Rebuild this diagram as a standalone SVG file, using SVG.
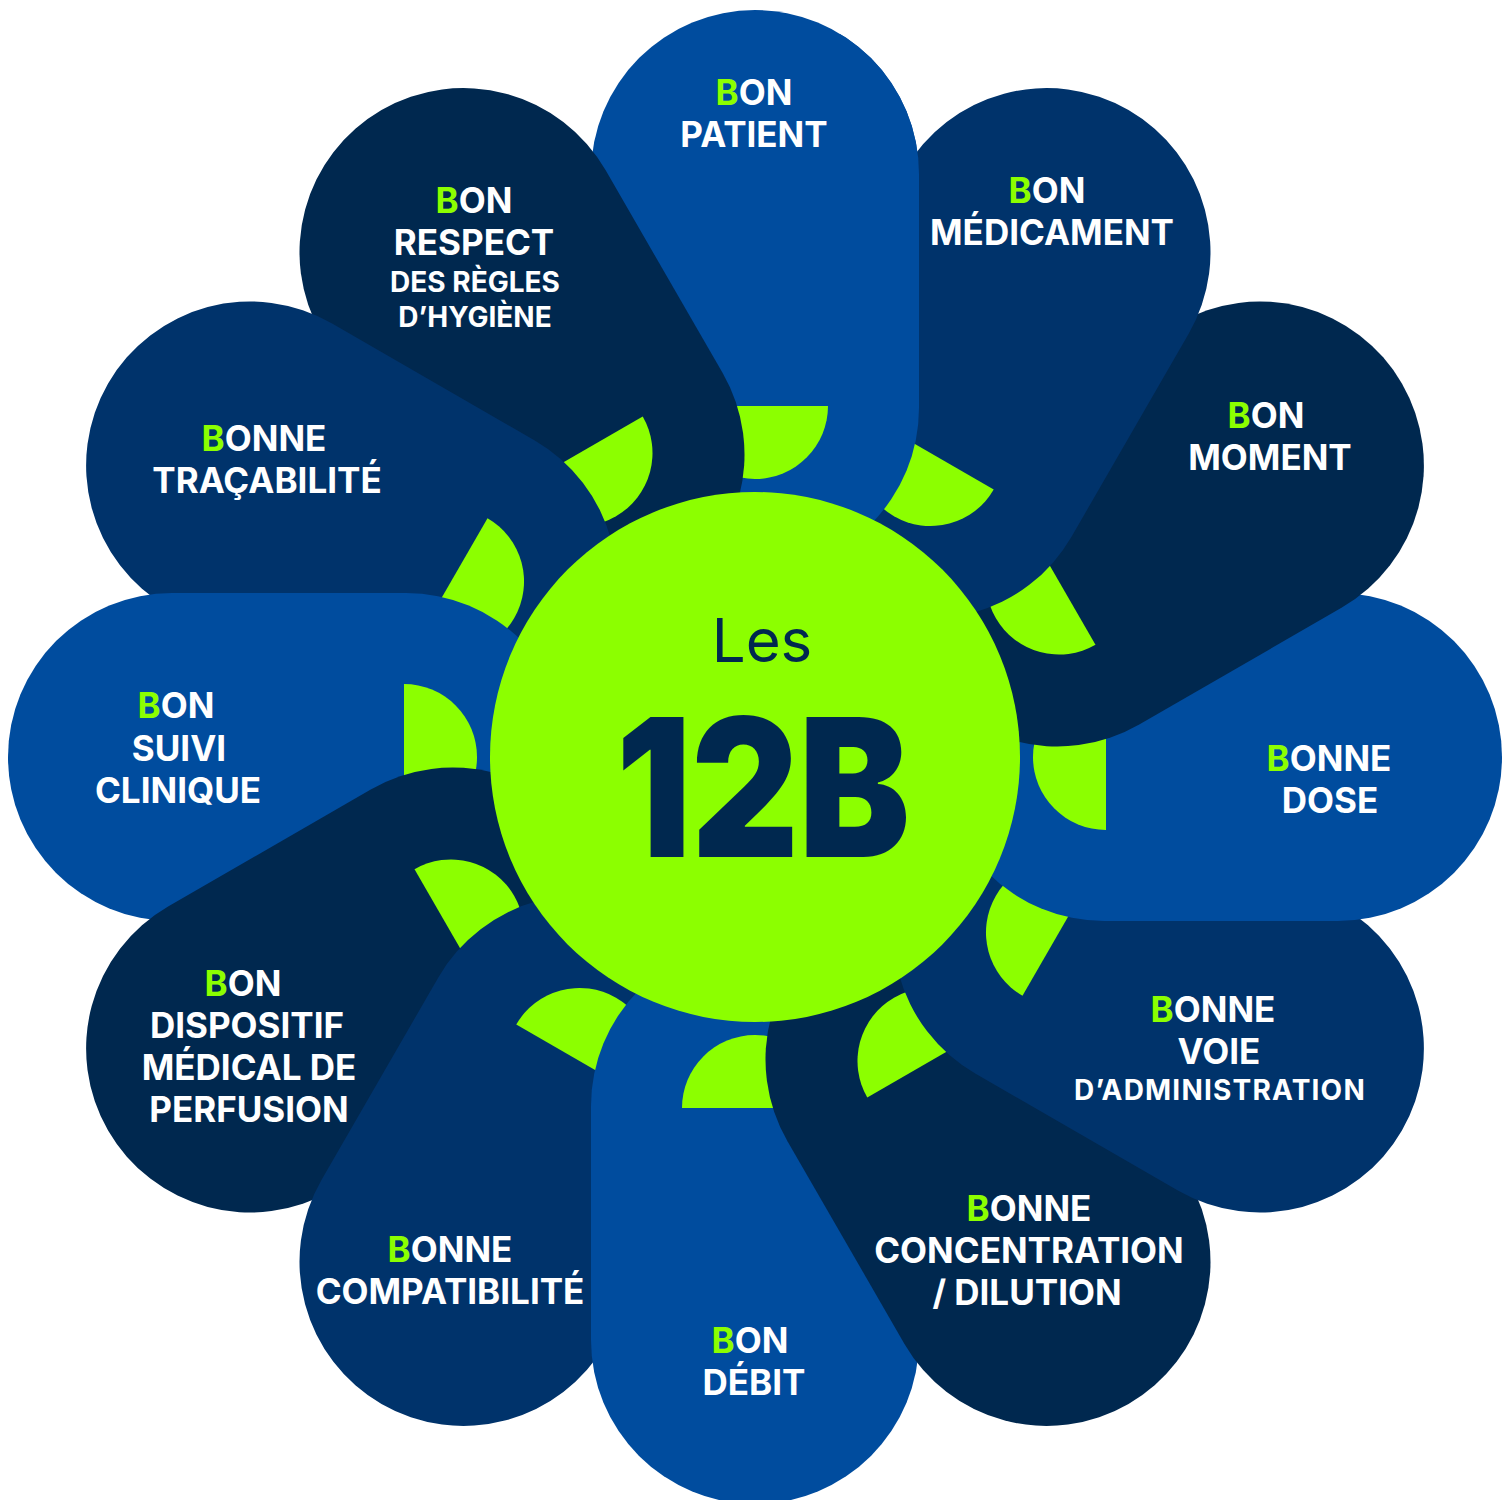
<svg xmlns="http://www.w3.org/2000/svg" xmlns:xlink="http://www.w3.org/1999/xlink" width="1512" height="1500" viewBox="0 0 1512 1500">
<style>
.blue{fill:#004C9E}
.navy{fill:#00336B}
.dark{fill:#00284F}
.leaf{fill:#8CFF00}
.lbl{font-family:Inter,"Liberation Sans",sans-serif;font-weight:700;font-size:35px;fill:#FFFFFF;text-anchor:middle}
.sm{font-size:28px}
.g{fill:#8CFF00}
.ctr{font-family:Inter,"Liberation Sans",sans-serif;fill:#00284F;text-anchor:middle}
</style>
<defs>
<rect id="petal" x="591" y="10" width="328" height="562" rx="164" ry="164"/>
<path id="half" d="M682,406 A73,73 0 0,0 828,406 Z"/>
<clipPath id="cpRight"><polygon points="840,0 1000,0 1000,660 755,660 755,165 840,165"/></clipPath>
</defs>
<rect width="1512" height="1500" fill="#FFFFFF"/>

<g id="node-patient">
<g id="patient-shape"><use xlink:href="#petal" class="blue"/><use xlink:href="#half" class="leaf"/></g>
<text class="lbl" x="754" y="105"><tspan class="g">B</tspan>ON</text>
<text class="lbl" x="754" y="147">PATIENT</text>
</g>

<g id="node-respect">
<g transform="rotate(-30 755 757)"><use xlink:href="#petal" class="dark"/><use xlink:href="#half" class="leaf"/></g>
<text class="lbl" x="474" y="213"><tspan class="g">B</tspan>ON</text>
<text class="lbl" x="474" y="255">RESPECT</text>
<text class="lbl sm" x="475" y="292">DES RÈGLES</text>
<text class="lbl sm" x="475" y="327">D’HYGIÈNE</text>
</g>

<g id="node-tracabilite">
<g transform="rotate(-60 755 757)"><use xlink:href="#petal" class="navy"/><use xlink:href="#half" class="leaf"/></g>
<text class="lbl" x="264" y="451"><tspan class="g">B</tspan>ONNE</text>
<text class="lbl" x="267" y="493">TRAÇABILITÉ</text>
</g>

<g id="node-suivi">
<g transform="rotate(-90 755 757)"><use xlink:href="#petal" class="blue"/><use xlink:href="#half" class="leaf"/></g>
<text class="lbl" x="176" y="718"><tspan class="g">B</tspan>ON</text>
<text class="lbl" x="179" y="761">SUIVI</text>
<text class="lbl" x="178" y="803">CLINIQUE</text>
</g>

<g id="node-dispositif">
<g transform="rotate(-120 755 757)"><use xlink:href="#petal" class="dark"/><use xlink:href="#half" class="leaf"/></g>
<text class="lbl" x="243" y="996"><tspan class="g">B</tspan>ON</text>
<text class="lbl" x="247" y="1038">DISPOSITIF</text>
<text class="lbl" x="249" y="1080">MÉDICAL DE</text>
<text class="lbl" x="249" y="1122">PERFUSION</text>
</g>

<g id="node-compatibilite">
<g transform="rotate(-150 755 757)"><use xlink:href="#petal" class="navy"/><use xlink:href="#half" class="leaf"/></g>
<text class="lbl" x="450" y="1262"><tspan class="g">B</tspan>ONNE</text>
<text class="lbl" x="450" y="1304">COMPATIBILITÉ</text>
</g>

<g id="node-debit">
<g transform="rotate(180 755 757)"><use xlink:href="#petal" class="blue"/><use xlink:href="#half" class="leaf"/></g>
<text class="lbl" x="750" y="1353"><tspan class="g">B</tspan>ON</text>
<text class="lbl" x="754" y="1395">DÉBIT</text>
</g>

<g id="node-concentration">
<g transform="rotate(150 755 757)"><use xlink:href="#petal" class="dark"/><use xlink:href="#half" class="leaf"/></g>
<text class="lbl" x="1029" y="1221"><tspan class="g">B</tspan>ONNE</text>
<text class="lbl" x="1029" y="1263">CONCENTRATION</text>
<text class="lbl" x="1027" y="1305">/ DILUTION</text>
</g>

<g id="node-voie">
<g transform="rotate(120 755 757)"><use xlink:href="#petal" class="navy"/><use xlink:href="#half" class="leaf"/></g>
<text class="lbl" x="1213" y="1022"><tspan class="g">B</tspan>ONNE</text>
<text class="lbl" x="1219" y="1064">VOIE</text>
<text class="lbl sm" x="1220" y="1100" letter-spacing="1.2">D’ADMINISTRATION</text>
</g>

<g id="node-dose">
<g transform="rotate(90 755 757)"><use xlink:href="#petal" class="blue"/><use xlink:href="#half" class="leaf"/></g>
<text class="lbl" x="1329" y="771"><tspan class="g">B</tspan>ONNE</text>
<text class="lbl" x="1330" y="813">DOSE</text>
</g>

<g id="node-moment">
<g transform="rotate(60 755 757)"><use xlink:href="#petal" class="dark"/><use xlink:href="#half" class="leaf"/></g>
<text class="lbl" x="1266" y="428"><tspan class="g">B</tspan>ON</text>
<text class="lbl" x="1270" y="470">MOMENT</text>
</g>

<g id="node-medicament">
<g transform="rotate(30 755 757)"><use xlink:href="#petal" class="navy"/><use xlink:href="#half" class="leaf"/></g>
<text class="lbl" x="1047" y="203"><tspan class="g">B</tspan>ON</text>
<text class="lbl" x="1052" y="245">MÉDICAMENT</text>
</g>

<g id="patient-overlap">
<use xlink:href="#patient-shape" clip-path="url(#cpRight)"/>
</g>

<g id="node-center">
<circle cx="755" cy="757" r="265" fill="#8CFF00"/>
<text class="ctr" x="762" y="662" font-size="60" font-weight="400">Les</text>
<text class="ctr" x="763" y="857" font-size="193" font-weight="900" textLength="294" lengthAdjust="spacingAndGlyphs">12B</text>
</g>

<g id="connectors"/>
</svg>
